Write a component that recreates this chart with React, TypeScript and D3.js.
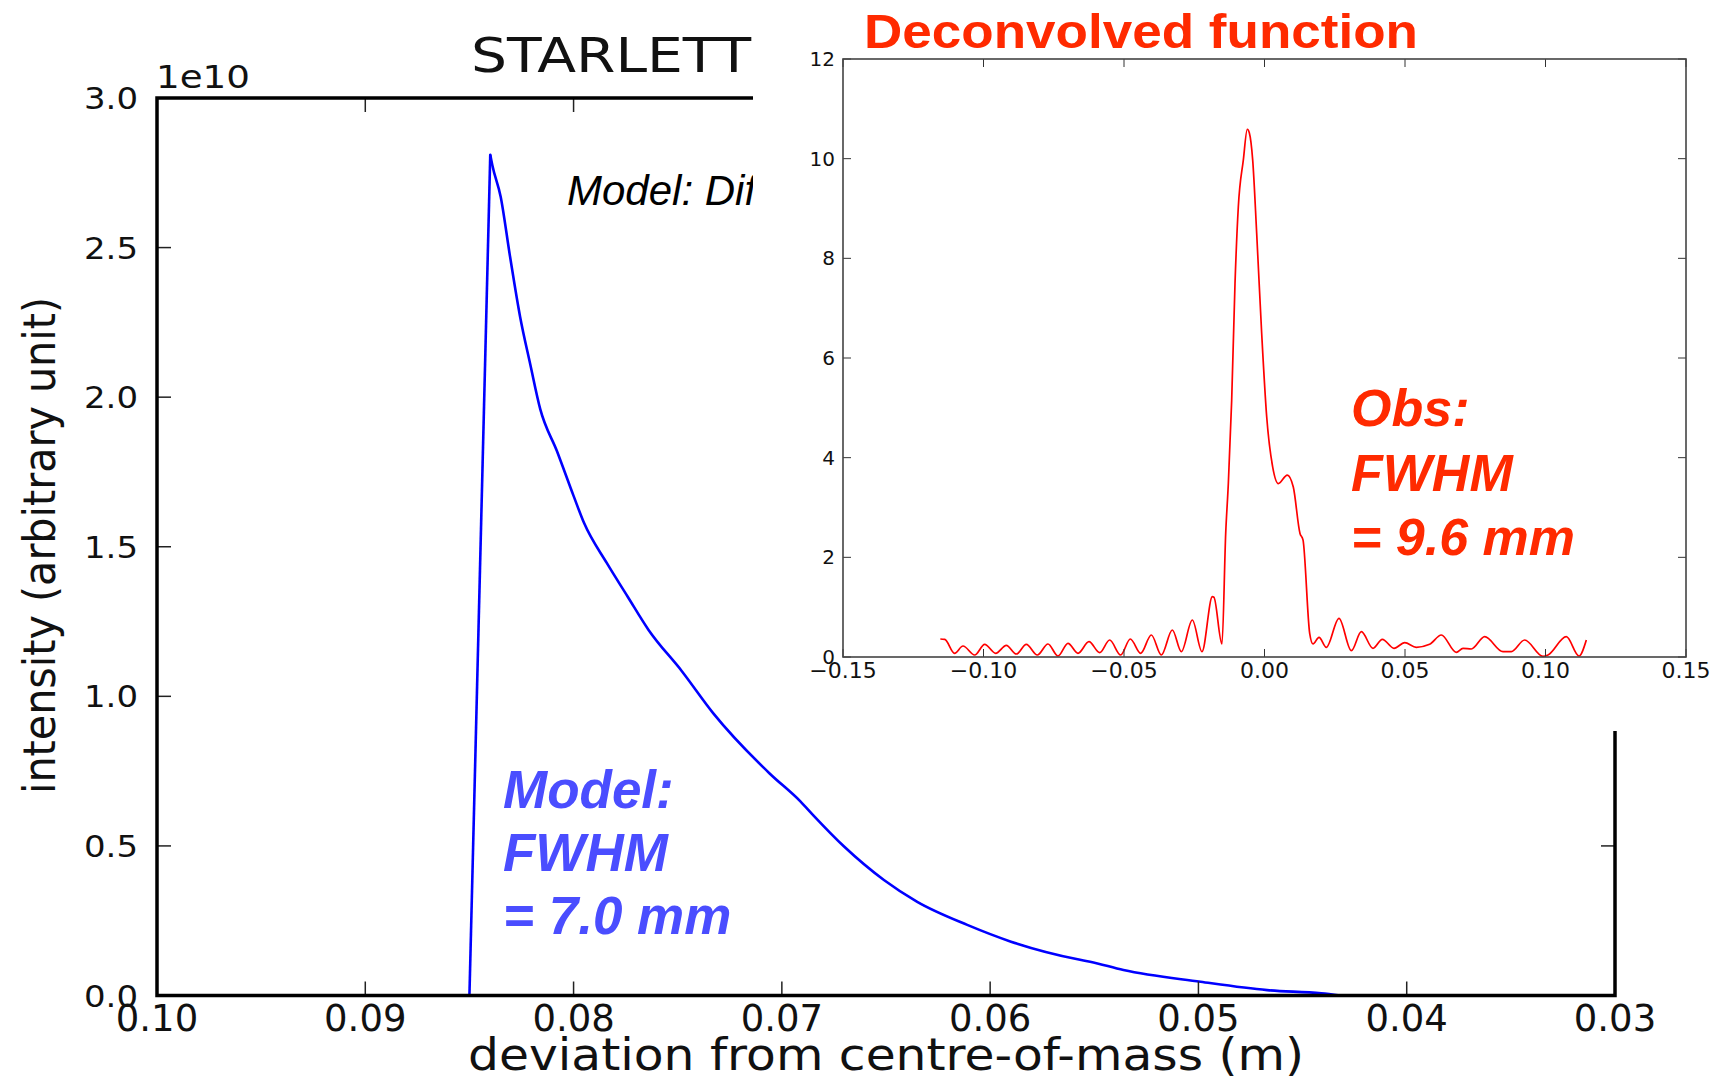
import React from "react";
import * as d3 from "d3";

// ---------- data ----------
// Main plot: model intensity (units of 1e10) vs deviation from centre-of-mass (m)
const modelX = [0.0850, 0.0840, 0.0839, 0.0835, 0.08305, 0.08257, 0.08208, 0.0816, 0.0808, 0.0800, 0.0795, 0.0784, 0.0774, 0.0764, 0.0748, 0.0733, 0.0706, 0.0691, 0.0685, 0.0670, 0.0651, 0.0635, 0.0611, 0.0590, 0.0558, 0.0552, 0.0536, 0.0499, 0.0467, 0.0441, 0.0432];
const modelY = [0.0, 2.81, 2.775, 2.67, 2.47, 2.27, 2.11, 1.96, 1.82, 1.67, 1.58, 1.445, 1.333, 1.222, 1.084, 0.944, 0.743, 0.648, 0.603, 0.497, 0.386, 0.313, 0.236, 0.180, 0.121, 0.113, 0.085, 0.046, 0.018, 0.007, 0.0];

// Inset: deconvolved function
const obsX = [-0.11536, -0.1138, -0.1103, -0.1073, -0.10314, -0.09958, -0.09567, -0.09187, -0.08832, -0.08476, -0.08084, -0.07705, -0.07349, -0.06993, -0.06637, -0.06246, -0.05866, -0.0551, -0.05119, -0.04775, -0.04407, -0.04027, -0.03671, -0.0328, -0.0296, -0.02568, -0.02224, -0.01856, -0.0180, -0.01513, -0.01381, -0.01287, -0.01168, -0.0105, -0.00932, -0.00754, -0.00612, -0.00541, -0.0042, -0.00278, -0.001, 0.00078, 0.00292, 0.00491, 0.00811, 0.01025, 0.01263, 0.0137, 0.01608, 0.01726, 0.0194, 0.02201, 0.02651, 0.0309, 0.03446, 0.03861, 0.04193, 0.04609, 0.04989, 0.05403, 0.05877, 0.06292, 0.06826, 0.07064, 0.07361, 0.07836, 0.08488, 0.08784, 0.09259, 0.09911, 0.10089, 0.10741, 0.11192, 0.11453];
const obsY = [0.361, 0.355, 0.074, 0.221, 0.04, 0.254, 0.074, 0.234, 0.06, 0.254, 0.04, 0.261, 0.02, 0.274, 0.074, 0.308, 0.087, 0.341, 0.04, 0.361, 0.074, 0.441, 0.04, 0.542, 0.107, 0.742, 0.107, 1.21, 1.2, 0.261, 2.48, 3.48, 5.15, 7.49, 9.03, 9.97, 10.59, 10.52, 9.97, 8.5, 6.49, 4.82, 3.81, 3.48, 3.65, 3.41, 2.48, 2.35, 0.475, 0.261, 0.395, 0.194, 0.776, 0.127, 0.508, 0.174, 0.355, 0.174, 0.288, 0.194, 0.254, 0.441, 0.094, 0.174, 0.161, 0.408, 0.107, 0.107, 0.341, 0.013, 0.04, 0.408, 0.02, 0.341];

const mainXTicks = [0.10, 0.09, 0.08, 0.07, 0.06, 0.05, 0.04, 0.03];
const mainXTickLabels = ["0.10", "0.09", "0.08", "0.07", "0.06", "0.05", "0.04", "0.03"];
const mainYTicks = [0, 0.5, 1.0, 1.5, 2.0, 2.5, 3.0];
const mainYTickLabels = ["0.0", "0.5", "1.0", "1.5", "2.0", "2.5", "3.0"];

const insetXTicks = [-0.15, -0.10, -0.05, 0.0, 0.05, 0.10, 0.15];
const insetXTickLabels = ["\u22120.15", "\u22120.10", "\u22120.05", "0.00", "0.05", "0.10", "0.15"];
const insetYTicks = [0, 2, 4, 6, 8, 10, 12];
const insetYTickLabels = ["0", "2", "4", "6", "8", "10", "12"];

const mainTitle = "STARLETTE";
const modelNote = "Model: Diffuse";
const xLabel = "deviation from centre-of-mass (m)";
const yLabel = "intensity (arbitrary unit)";
const offsetLabel = "1e10";
const insetTitle = "Deconvolved function";
const obsLines = ["Obs:", "FWHM", "= 9.6 mm"];
const modelLines = ["Model:", "FWHM", "= 7.0 mm"];

const W = 1725;
const H = 1081;
const DV = "'DejaVu Sans', sans-serif";
const LS = "'Liberation Sans', Arial, sans-serif";
const RED = "#ff2a00";
const BLUE_TXT = "#4a4dff";

export default function App() {
  const xM = d3.scaleLinear().domain([0.10, 0.03]).range([157, 1615]);
  const yM = d3.scaleLinear().domain([0, 3.0]).range([995.5, 98]);
  const xI = d3.scaleLinear().domain([-0.15, 0.15]).range([843, 1686]);
  const yI = d3.scaleLinear().domain([0, 12]).range([657, 59]);

  const modelPts: [number, number][] = modelX.map((x, i) => [x, modelY[i]]);
  const obsPts: [number, number][] = obsX.map((x, i) => [x, obsY[i]]);
  const risePts = modelPts.slice(0, 2);
  const decayPts = modelPts.slice(1);

  const lineRise = d3
    .line<[number, number]>()
    .x((d) => xM(d[0]))
    .y((d) => yM(d[1]));
  const lineM = d3
    .line<[number, number]>()
    .x((d) => xM(d[0]))
    .y((d) => yM(d[1]))
    .curve(d3.curveMonotoneX);
  const lineI = d3
    .line<[number, number]>()
    .x((d) => xI(d[0]))
    .y((d) => yI(d[1]))
    .curve(d3.curveMonotoneX);

  const [mx0, mx1] = xM.range();
  const [my0, my1] = yM.range();
  const [ix0, ix1] = xI.range();
  const [iy0, iy1] = yI.range();
  const mTick = 14;
  const iTick = 8;

  return (
    <svg
      width={W}
      height={H}
      viewBox={`0 0 ${W} ${H}`}
      style={{ position: "absolute", left: 0, top: 0, display: "block", background: "#fff" }}
    >
      <defs>
        <clipPath id="leftPart">
          <rect x={0} y={0} width={753} height={H} />
        </clipPath>
      </defs>
      <rect x={0} y={0} width={W} height={H} fill="#fff" />

      {/* ---------- main plot ---------- */}
      <text x={471} y={72} fontFamily={DV} fontSize={48} fill="#111" textLength={316} lengthAdjust="spacingAndGlyphs" clipPath="url(#leftPart)">
        {mainTitle}
      </text>
      <text x={567} y={205} fontFamily={LS} fontStyle="italic" fontSize={42} fill="#000" clipPath="url(#leftPart)">
        {modelNote}
      </text>

      <path d={lineRise(risePts) || ""} fill="none" stroke="#0000ff" strokeWidth={2.6} strokeLinejoin="round" />
      <path d={lineM(decayPts) || ""} fill="none" stroke="#0000ff" strokeWidth={2.6} strokeLinejoin="round" strokeLinecap="round" />

      {/* ticks */}
      {mainXTicks.map((t, i) => (
        <g key={"mxt" + i}>
          <line x1={xM(t)} x2={xM(t)} y1={my0} y2={my0 - mTick} stroke="#222" strokeWidth={1.5} />
          <line x1={xM(t)} x2={xM(t)} y1={my1} y2={my1 + mTick} stroke="#222" strokeWidth={1.5} />
          <text x={xM(t)} y={1031} textAnchor="middle" fontFamily={DV} fontSize={37} fill="#111">
            {mainXTickLabels[i]}
          </text>
        </g>
      ))}
      {mainYTicks.map((t, i) => (
        <g key={"myt" + i}>
          <line x1={mx0} x2={mx0 + mTick} y1={yM(t)} y2={yM(t)} stroke="#222" strokeWidth={1.5} />
          <line x1={mx1} x2={mx1 - mTick} y1={yM(t)} y2={yM(t)} stroke="#222" strokeWidth={1.5} />
          <text x={138} y={yM(t) + 11} textAnchor="end" fontFamily={DV} fontSize={31} fill="#111" textLength={54} lengthAdjust="spacingAndGlyphs">
            {mainYTickLabels[i]}
          </text>
        </g>
      ))}

      {/* spines */}
      <rect x={mx0} y={my1} width={mx1 - mx0} height={my0 - my1} fill="none" stroke="#000" strokeWidth={3.5} />

      <text x={156} y={88} fontFamily={DV} fontSize={32} fill="#111" textLength={94} lengthAdjust="spacingAndGlyphs">
        {offsetLabel}
      </text>
      <text x={468} y={1070} fontFamily={DV} fontSize={44} fill="#111" textLength={836} lengthAdjust="spacingAndGlyphs">
        {xLabel}
      </text>
      <text transform="translate(55,794) rotate(-90)" x={0} y={0} fontFamily={DV} fontSize={44} fill="#111" textLength={497} lengthAdjust="spacingAndGlyphs">
        {yLabel}
      </text>

      {modelLines.map((s, i) => (
        <text key={"ml" + i} x={503} y={808 + i * 63} fontFamily={LS} fontWeight="bold" fontStyle="italic" fontSize={53} fill={BLUE_TXT}>
          {s}
        </text>
      ))}

      {/* ---------- inset (white panel) ---------- */}
      <rect x={753} y={0} width={W - 753} height={731} fill="#fff" />

      <text x={864} y={48} fontFamily={LS} fontWeight="bold" fontSize={49} fill={RED} textLength={554} lengthAdjust="spacingAndGlyphs">
        {insetTitle}
      </text>

      <path d={lineI(obsPts) || ""} fill="none" stroke="#ff0000" strokeWidth={1.7} strokeLinejoin="round" />

      {insetXTicks.map((t, i) => (
        <g key={"ixt" + i}>
          <line x1={xI(t)} x2={xI(t)} y1={iy0} y2={iy0 - iTick} stroke="#333" strokeWidth={1} />
          <line x1={xI(t)} x2={xI(t)} y1={iy1} y2={iy1 + iTick} stroke="#333" strokeWidth={1} />
          <text x={xI(t)} y={678} textAnchor="middle" fontFamily={DV} fontSize={22} fill="#111">
            {insetXTickLabels[i]}
          </text>
        </g>
      ))}
      {insetYTicks.map((t, i) => (
        <g key={"iyt" + i}>
          <line x1={ix0} x2={ix0 + iTick} y1={yI(t)} y2={yI(t)} stroke="#333" strokeWidth={1} />
          <line x1={ix1} x2={ix1 - iTick} y1={yI(t)} y2={yI(t)} stroke="#333" strokeWidth={1} />
          <text x={835} y={yI(t) + 7} textAnchor="end" fontFamily={DV} fontSize={20} fill="#111">
            {insetYTickLabels[i]}
          </text>
        </g>
      ))}
      <rect x={ix0} y={iy1} width={ix1 - ix0} height={iy0 - iy1} fill="none" stroke="#444" strokeWidth={1.6} />

      {obsLines.map((s, i) => (
        <text key={"ol" + i} x={1351} y={426 + i * 64.5} fontFamily={LS} fontWeight="bold" fontStyle="italic" fontSize={52} fill={RED}>
          {s}
        </text>
      ))}
    </svg>
  );
}
